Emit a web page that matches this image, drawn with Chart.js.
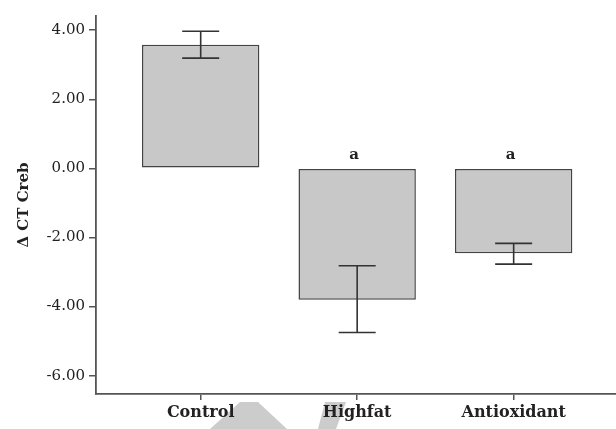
<!DOCTYPE html>
<html>
<head>
<meta charset="utf-8">
<script src="https://cdn.jsdelivr.net/npm/chart.js@4/dist/chart.umd.min.js"></script>
<style>
html,body{margin:0;padding:0;background:#fff;}
#wrap{width:616px;height:429px;position:relative;}
</style>
</head>
<body>
<div id="wrap"><canvas id="c" width="616" height="429"></canvas></div>
<script>
const categories = ['Control', 'Highfat', 'Antioxidant'];
const means = [3.58, -3.80, -2.46];
const errHigh = [3.97, -2.82, -2.17];
const errLow = [3.19, -4.75, -2.77];
const sigLabels = ['', 'a', 'a'];
const yTicks = [4, 2, 0, -2, -4, -6];

const positions = categories.map((_, i) => i + 1);

const errorBars = {
  id: 'errorBars',
  afterDatasetsDraw(chart) {
    const ctx = chart.ctx;
    const xs = chart.scales.x, ys = chart.scales.y;
    ctx.save();
    ctx.strokeStyle = '#333';
    ctx.lineWidth = 1.6;
    positions.forEach((p, i) => {
      const x = xs.getPixelForValue(p);
      const yh = ys.getPixelForValue(errHigh[i]);
      const yl = ys.getPixelForValue(errLow[i]);
      const half = 18.5;
      ctx.beginPath();
      ctx.moveTo(x, yh); ctx.lineTo(x, yl);
      ctx.moveTo(x - half, yh); ctx.lineTo(x + half, yh);
      ctx.moveTo(x - half, yl); ctx.lineTo(x + half, yl);
      ctx.stroke();
      if (sigLabels[i]) {
        ctx.fillStyle = '#222';
        ctx.font = 'bold 15px "DejaVu Serif"';
        ctx.textAlign = 'center';
        ctx.textBaseline = 'middle';
        ctx.fillText(sigLabels[i], x - 3, ys.getPixelForValue(0) - 13);
      }
    });
    ctx.restore();
  }
};

const watermark = {
  id: 'watermark',
  beforeDraw(chart) {
    const ctx = chart.ctx;
    ctx.save();
    ctx.fillStyle = '#cccccc';
    ctx.beginPath();
    ctx.moveTo(240, 402); ctx.lineTo(258, 402); ctx.lineTo(287, 429); ctx.lineTo(210, 429);
    ctx.closePath(); ctx.fill();
    ctx.beginPath();
    ctx.moveTo(325, 402); ctx.lineTo(346, 402); ctx.lineTo(336, 429); ctx.lineTo(318, 429);
    ctx.closePath(); ctx.fill();
    ctx.restore();
  }
};

new Chart(document.getElementById('c'), {
  type: 'bar',
  data: {
    datasets: [{
      data: positions.map((p, i) => ({ x: p, y: means[i] })),
      backgroundColor: '#c8c8c8',
      borderColor: '#444',
      borderWidth: 1.5,
      borderSkipped: false,
      barPercentage: 0.75,
      categoryPercentage: 1.0
    }]
  },
  options: {
    responsive: false,
    animation: false,
    devicePixelRatio: 1,
    layout: { padding: { top: 16, right: 0, left: 0, bottom: 0 } },
    plugins: { legend: { display: false }, tooltip: { enabled: false } },
    scales: {
      x: {
        type: 'linear',
        offset: false,
        min: 0.331,
        max: 3.654,
        afterBuildTicks(scale) { scale.ticks = positions.map(v => ({ value: v })); },
        afterFit(scale) { scale.height = 35; },
        ticks: {
          autoSkip: false,
          maxRotation: 0,
          color: '#222',
          font: { family: 'DejaVu Serif', size: 16, weight: 'bold' },
          padding: 3,
          callback: (v) => categories[Math.round(v) - 1] || ''
        },
        grid: { offset: false, drawOnChartArea: false, drawTicks: true, tickLength: 6, color: '#555', lineWidth: 1.5 },
        border: { display: true, color: '#555', width: 1.8 }
      },
      y: {
        min: -6.53,
        max: 4.41,
        afterBuildTicks(scale) { scale.ticks = yTicks.map(v => ({ value: v })); },
        afterFit(scale) { scale.width = 96; },
        ticks: {
          color: '#222',
          font: { family: 'DejaVu Serif', size: 15 },
          padding: 4,
          callback: (v) => Number(v).toFixed(2)
        },
        title: {
          display: true,
          text: '\u0394 CT Creb',
          color: '#222',
          font: { family: 'DejaVu Serif', size: 15, weight: 'bold' },
          padding: { top: 15, bottom: 0 }
        },
        grid: { drawOnChartArea: false, drawTicks: true, tickLength: 7, color: '#555', lineWidth: 1.5 },
        border: { display: true, color: '#555', width: 1.8 }
      }
    }
  },
  plugins: [watermark, errorBars]
});
</script>
</body>
</html>
